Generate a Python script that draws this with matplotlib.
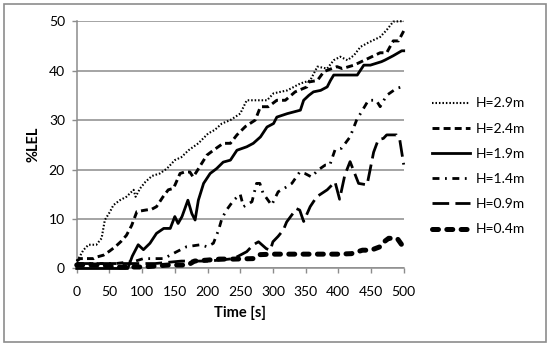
import matplotlib
matplotlib.use("Agg")
import matplotlib.pyplot as plt
from matplotlib.patches import Rectangle

plt.rcParams['font.family'] = ['Lato', 'DejaVu Sans']
plt.rcParams['lines.scale_dashes'] = False

# ---------------- data ----------------
t_29 = [0, 5, 10, 18, 30, 38, 43, 51, 56, 66, 76, 87, 90, 97, 105, 115, 127, 138, 150, 160,
        171, 186, 201, 211, 222, 235, 250, 260, 275, 291, 301, 322, 342, 357, 368, 383, 393,
        403, 414, 424, 434, 448, 464, 474, 484, 500]
v_29 = [1.5, 2.5, 3.7, 4.8, 4.8, 6.1, 9.8, 11.5, 12.8, 13.8, 14.5, 15.9, 14.5, 16.2, 17.5, 18.7,
        19.2, 20.2, 21.9, 22.5, 23.9, 25.3, 27.3, 28, 29.3, 30, 31.3, 34, 34, 34, 35.4, 36, 37.4,
        38, 40.8, 40.4, 42.1, 42.8, 42.1, 43.1, 44.8, 45.8, 46.8, 48.2, 49.9, 50]

t_24 = [0, 5, 26, 30, 41, 50, 59, 68, 76, 84, 92, 105, 115, 122, 132, 140, 148, 158, 165, 173,
        178, 183, 190, 199, 209, 224, 235, 245, 258, 273, 281, 293, 306, 319, 334, 352, 355, 368,
        378, 398, 406, 424, 440, 464, 474, 484, 492, 500]
v_24 = [1.5, 2, 2, 2.3, 2.7, 3.5, 4.4, 5.5, 6.7, 8.7, 11.5, 11.8, 12, 12.5, 14.5, 15.9, 16.2, 19.2,
        19.5, 19.5, 18.5, 19.5, 21, 22.9, 23.9, 25.3, 25.3, 27, 28.7, 30, 32.7, 32.7, 34, 34, 35.7,
        36.7, 37.7, 38, 39.8, 40.8, 40.4, 41.1, 42.1, 43.6, 43.6, 46, 46, 48]

t_19 = [0, 40, 78, 85, 94, 102, 112, 122, 133, 143, 150, 155, 161, 170, 176, 181, 186, 194, 204,
        214, 224, 235, 245, 260, 270, 281, 291, 301, 306, 322, 342, 347, 355, 362, 373, 383, 388,
        393, 418, 429, 439, 449, 466, 471, 484, 497, 500]
v_19 = [0, 0, 0, 2.5, 4.8, 3.8, 5.1, 7.1, 8.1, 8.1, 10.5, 9.1, 10.5, 13.8, 11.1, 9.8, 13.8, 17.2,
        19.2, 20.2, 21.5, 21.9, 23.9, 24.6, 25.3, 26.6, 28.6, 29.3, 30.6, 31.3, 32, 34, 35, 35.7,
        36, 36.7, 38, 39.1, 39.1, 39.1, 41.1, 41.1, 41.8, 42.1, 43, 44, 44]

t_14 = [0, 30, 60, 90, 102, 133, 153, 168, 189, 199, 209, 217, 222, 229, 240, 250, 255, 263, 268,
        275, 280, 285, 298, 308, 321, 329, 341, 349, 359, 369, 380, 387, 395, 405, 418, 428, 437,
        446, 458, 464, 474, 489, 497, 500]
v_14 = [1, 1, 1, 1.5, 2, 2, 3.4, 4.4, 4.8, 4.4, 5.1, 7.8, 10.1, 11.8, 13.8, 15, 12.5, 13.1, 13.5,
        17.2, 17.2, 15.2, 12.8, 15.5, 16.5, 17.2, 19.5, 19.2, 18.5, 19.9, 20.9, 20.9, 24, 24.3,
        26.6, 30, 32, 34, 34, 32.7, 35, 36.4, 36.7, 37]

t_09 = [0, 40, 80, 120, 160, 200, 219, 240, 260, 270, 278, 290, 296, 300, 308, 316, 321, 336, 341,
        347, 357, 367, 375, 383, 395, 402, 410, 418, 431, 444, 454, 461, 469, 474, 489, 494, 500]
v_09 = [1, 1, 1, 1, 1.5, 1.5, 1.7, 2, 3.4, 4.8, 5.4, 4, 3.7, 5.4, 6.5, 7.8, 9.4, 12.1, 11.8, 9.5,
        12.5, 14.5, 15.2, 15.9, 17.5, 14, 18.9, 21.6, 17.2, 16.9, 23.5, 26, 26.3, 27, 27, 26, 21]

t_04 = [0, 40, 60, 100, 140, 170, 180, 200, 219, 240, 270, 280, 300, 350, 400, 420, 437, 450, 464,
        470, 477, 490, 497, 500]
v_04 = [0.7, 0.7, 0.3, 0.3, 0.7, 0.7, 1.5, 1.7, 1.9, 1.9, 2, 2.8, 2.9, 2.9, 2.9, 3, 3.7, 3.7, 4.4,
        5.4, 6.1, 6.1, 4.8, 5]

labels = ["H=2.9m", "H=2.4m", "H=1.9m", "H=1.4m", "H=0.9m", "H=0.4m"]
x_ticks = [0, 50, 100, 150, 200, 250, 300, 350, 400, 450, 500]
y_ticks = [0, 10, 20, 30, 40, 50]

# ---------------- figure ----------------
fig = plt.figure(figsize=(5.5, 3.46), dpi=100)
ax = fig.add_axes([0.1395, 0.224, 0.5945, 0.715])

grid_c = '#8c8c8c'
styles = [
    dict(lw=1.5, dashes=(1.1, 1.4), dash_capstyle='butt'),
    dict(lw=2.1, dashes=(5, 3), dash_capstyle='butt'),
    dict(lw=2.0, linestyle='-'),
    dict(lw=2.0, dashes=(5, 4, 1.3, 4), dash_capstyle='butt'),
    dict(lw=2.0, dashes=(12, 4.5), dash_capstyle='butt'),
    dict(lw=3.6, dashes=(4.3, 6.0), dash_capstyle='round'),
]
series = [(t_29, v_29), (t_24, v_24), (t_19, v_19), (t_14, v_14), (t_09, v_09), (t_04, v_04)]
for (tt, vv), st, lab in zip(series, styles, labels):
    ax.plot(tt, vv, color='black', label=lab, clip_on=False, zorder=3, **st)

ax.set_xlim(0, 500)
ax.set_ylim(0, 50)
ax.set_xticks(x_ticks)
ax.set_yticks(y_ticks)
ax.yaxis.grid(True, color=grid_c, lw=1.1)
ax.set_axisbelow(True)
for s in ['top', 'right']:
    ax.spines[s].set_visible(False)
for s in ['left', 'bottom']:
    ax.spines[s].set_color(grid_c)
    ax.spines[s].set_linewidth(1.1)
ax.tick_params(axis='both', direction='out', length=3.5, width=1.0, color=grid_c,
               labelsize=10, labelcolor='black')
ax.tick_params(axis='x', pad=9)
ax.tick_params(axis='y', pad=5)

ax.set_xlabel('Time [s]', fontsize=10.5, fontweight='bold', labelpad=6)
ax.set_ylabel('%LEL', fontsize=10.5, fontweight='bold', labelpad=6)

leg = ax.legend(loc='center left', bbox_to_anchor=(0.785, 0.519), bbox_transform=fig.transFigure,
                frameon=False, fontsize=10, handlelength=2.75, handletextpad=0.45,
                labelspacing=0.95, borderpad=0, borderaxespad=0)

fig.patches.append(Rectangle((0.008, 0.012), 0.984, 0.976, transform=fig.transFigure,
                             fill=False, edgecolor='#8c8c8c', lw=1.2))

fig.savefig('out.png', dpi=100)
